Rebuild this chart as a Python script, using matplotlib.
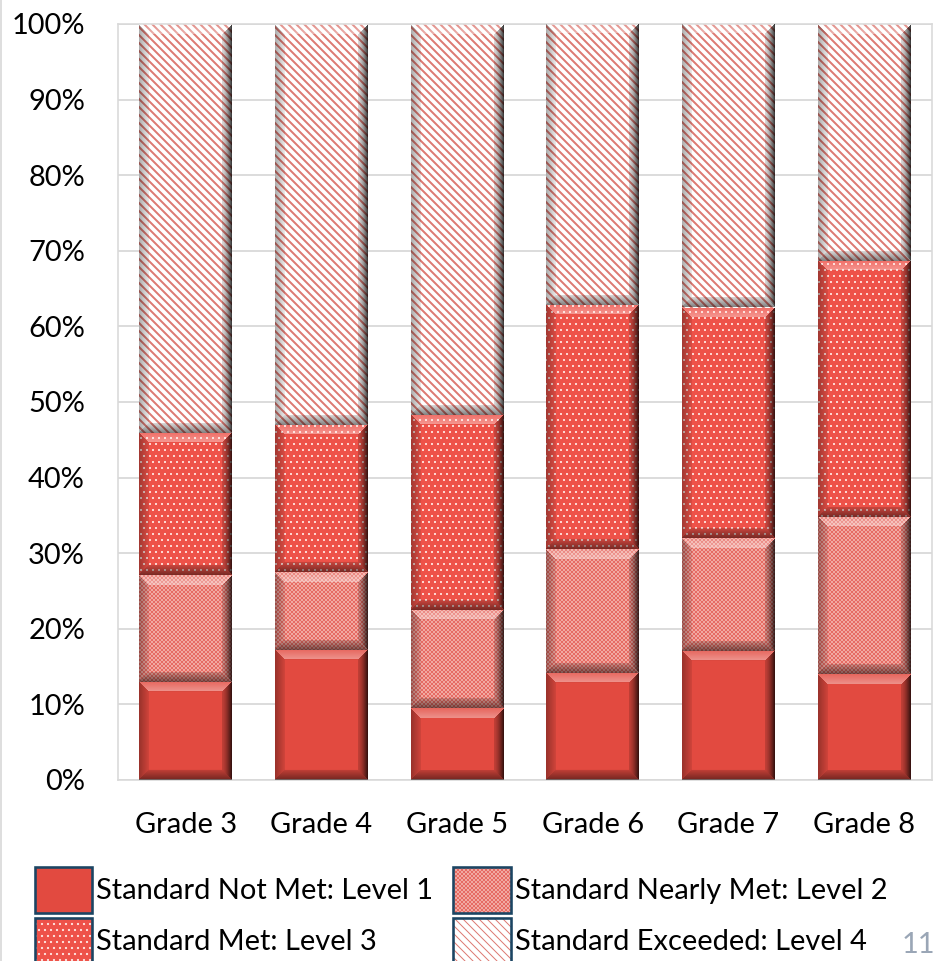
import numpy as np
import matplotlib
matplotlib.use("Agg")
import matplotlib.pyplot as plt
from matplotlib.patches import Patch
from matplotlib.lines import Line2D
from matplotlib.legend_handler import HandlerTuple

# Share of students at each achievement level, by grade (percent)
grades = ["Grade 3", "Grade 4", "Grade 5", "Grade 6", "Grade 7", "Grade 8"]
not_met = [13.0, 17.2, 9.5, 14.2, 17.1, 14.0]
nearly_met = [14.1, 10.3, 13.0, 16.3, 14.9, 20.8]
met = [18.8, 19.5, 25.8, 32.3, 30.5, 33.9]
exceeded = [54.1, 53.0, 51.7, 37.2, 37.5, 31.3]
level_names = [
    "Standard Not Met: Level 1",
    "Standard Nearly Met: Level 2",
    "Standard Met: Level 3",
    "Standard Exceeded: Level 4",
]
y_ticks = list(range(0, 101, 10))

plt.rcParams["font.family"] = ["Lato", "DejaVu Sans"]

# Rendered at 72 dpi so one point is one pixel and the hatch tiles line up
# with the pixel grid.
DPI = 72
W_PX, H_PX = 942, 961
RED = "#E24A40"
FONT_SIZE = 29

# face colour, hatch pattern, hatch colour for each level
styles = [
    dict(facecolor=RED, hatch=None, edgecolor=RED),
    dict(facecolor="#F5BEB8", hatch="x" * 6, edgecolor="#E66B63"),
    dict(facecolor="#EE5249", hatch="..", edgecolor="#FFE6E2"),
    dict(facecolor="white", hatch="\\" * 3, edgecolor="#DD7A73"),
]
hatch_widths = [1.0, 1.0, 0.9, 2.0]

fig = plt.figure(figsize=(W_PX / DPI, H_PX / DPI), dpi=DPI)
ax = fig.add_axes([118 / W_PX, 181 / H_PX, 814 / W_PX, 756 / H_PX])
ax.set_xlim(-0.5, len(grades) - 0.5)
ax.set_ylim(0, 100)

x = np.arange(len(grades))
bottom = np.zeros(len(grades))
containers = []
for vals, st, hw in zip([not_met, nearly_met, met, exceeded], styles, hatch_widths):
    with plt.rc_context({"hatch.linewidth": hw}):
        bc = ax.bar(x, vals, bottom=bottom, width=0.685, linewidth=0, zorder=2, **st)
    for p in bc.patches:
        if hasattr(p, "set_hatch_linewidth"):
            p.set_hatch_linewidth(hw)
    containers.append(bc)
    bottom = bottom + np.asarray(vals)


def add_bevel(ax, patch, depth=10.0):
    """Lay a shaded bevel over one bar segment."""
    x0, y0 = patch.get_x(), patch.get_y()
    w, h = patch.get_width(), patch.get_height()
    (px0, py0), (px1, py1) = ax.transData.transform([(x0, y0), (x0 + w, y0 + h)])
    wp = max(int(round(px1 - px0)), 2)
    hp = max(int(round(py1 - py0)), 2)
    jj, ii = np.meshgrid(np.arange(wp) + 0.5, np.arange(hp) + 0.5)
    d = np.stack([ii, hp - ii, jj, wp - jj])  # top, bottom, left, right
    side = d.argmin(axis=0)
    m = d.min(axis=0)
    t = np.clip(1.0 - m / depth, 0.0, 1.0)
    band = m < depth
    rgba = np.zeros((hp, wp, 4))
    top = band & (side == 0)
    rgba[top, :3] = 1.0
    rgba[top, 3] = 0.15 + 0.25 * (1 - t[top])
    bot = band & (side == 1)
    rgba[bot, 3] = 0.15 + 0.35 * t[bot]
    lft = band & (side == 2)
    rgba[lft, 3] = 0.08 + 0.25 * t[lft]
    rgt = band & (side == 3)
    rgba[rgt, 3] = 0.15 + 0.65 * t[rgt] ** 1.5
    im = ax.imshow(rgba, extent=(x0, x0 + w, y0, y0 + h), origin="upper",
                   aspect="auto", interpolation="bilinear", zorder=3)
    im.set_clip_path(patch)


for bc in containers:
    for p in bc.patches:
        add_bevel(ax, p)

ax.set_xlim(-0.5, len(grades) - 0.5)
ax.set_ylim(0, 100)

ax.set_yticks(y_ticks)
ax.set_yticklabels([f"{v}%" for v in y_ticks])
ax.set_xticks(x)
ax.set_xticklabels(grades)
ax.tick_params(axis="y", length=0, pad=33, labelsize=FONT_SIZE)
ax.tick_params(axis="x", length=0, pad=32, labelsize=FONT_SIZE)
ax.grid(axis="y", color="#D9D9D9", linewidth=1.8, zorder=0)
ax.set_axisbelow(True)
for s in ax.spines.values():
    s.set_color("#D9D9D9")
    s.set_linewidth(1.6)

# Legend: hatched swatch with a dark border drawn over it
border = dict(facecolor="none", edgecolor="#1B4563", linewidth=2.6)
handles = []
for st, hw in zip(styles, hatch_widths):
    with plt.rc_context({"hatch.linewidth": hw}):
        sw = Patch(linewidth=0, **st)
    if hasattr(sw, "set_hatch_linewidth"):
        sw.set_hatch_linewidth(hw)
    handles.append((sw, Patch(**border)))
order = [0, 2, 1, 3]
fig.legend([handles[i] for i in order], [level_names[i] for i in order],
           handler_map={tuple: HandlerTuple(ndivide=1, pad=0)},
           loc="upper left", bbox_to_anchor=(35 / W_PX, 1 - 867 / H_PX),
           ncol=2, frameon=False, fontsize=FONT_SIZE, borderpad=0,
           borderaxespad=0, handlelength=1.97, handleheight=2.06,
           handletextpad=0.14, columnspacing=0.7, labelspacing=0.17)

fig.text(935 / W_PX, 1 - 958 / H_PX, "11", ha="right", va="bottom",
         fontsize=FONT_SIZE, color="#9AA6B6")
fig.add_artist(Line2D([0.0015, 0.0015], [0, 1], color="#D6D6D6", linewidth=1.6))

fig.savefig("out.png", dpi=DPI)
